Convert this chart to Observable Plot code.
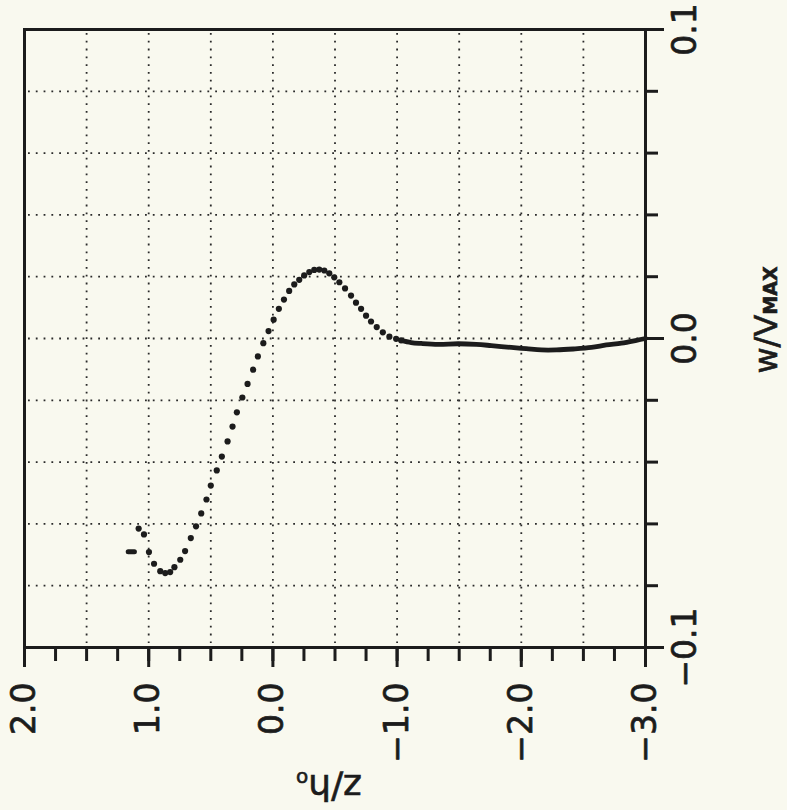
<!DOCTYPE html>
<html>
<head>
<meta charset="utf-8">
<script src="https://cdn.jsdelivr.net/npm/d3@7"></script>
<script src="https://cdn.jsdelivr.net/npm/@observablehq/plot@0.6"></script>
<style>
  html, body { margin: 0; padding: 0; background: #f9f9ef; }
  #chart svg { display: block; }
</style>
</head>
<body>
<div id="chart"></div>
<script>
// ---- axis ticks & labels ----
const xMajor = [2, 1, 0, -1, -2, -3];
const xLabels = ["2.0", "1.0", "0.0", "−1.0", "−2.0", "−3.0"];
const xMinor = [2, 1.75, 1.5, 1.25, 1, 0.75, 0.5, 0.25, 0, -0.25, -0.5, -0.75, -1, -1.25, -1.5, -1.75, -2, -2.25, -2.5, -2.75, -3];
const xGrid = [1.5, 1, 0.5, 0, -0.5, -1, -1.5, -2, -2.5];
const yMajor = [-0.1, 0, 0.1];
const yLabels = ["−0.1", "0.0", "0.1"];
const yMinor = [-0.1, -0.08, -0.06, -0.04, -0.02, 0, 0.02, 0.04, 0.06, 0.08, 0.1];
const yGrid = [-0.08, -0.06, -0.04, -0.02, 0, 0.02, 0.04, 0.06, 0.08];

// ---- data: z/h0 and w/Vmax ----
const zDots = [1.081, 1.038, 0.998, 0.957, 0.907, 0.867, 0.827, 0.793, 0.746, 0.707, 0.661, 0.619, 0.577, 0.535, 0.500, 0.452, 0.411, 0.365, 0.325, 0.290, 0.246, 0.204, 0.159, 0.121, 0.077, 0.035, -0.006, -0.048, -0.089, -0.131, -0.172, -0.212, -0.252, -0.293, -0.333, -0.373, -0.414, -0.454, -0.494, -0.535, -0.581, -0.629, -0.669, -0.710, -0.750, -0.790, -0.836, -0.885, -0.938, -0.992, -1.032];
const wDots = [-0.0615, -0.0634, -0.0691, -0.0729, -0.0753, -0.0759, -0.0756, -0.0740, -0.0716, -0.0688, -0.0646, -0.0608, -0.0566, -0.0521, -0.0476, -0.0427, -0.0382, -0.0333, -0.0285, -0.0239, -0.0191, -0.0147, -0.0101, -0.0058, -0.0015, 0.0024, 0.0061, 0.0096, 0.0126, 0.0154, 0.0175, 0.0190, 0.0204, 0.0215, 0.0222, 0.0223, 0.0220, 0.0211, 0.0198, 0.0182, 0.0162, 0.0139, 0.0116, 0.0096, 0.0074, 0.0055, 0.0037, 0.0020, 0.0006, -0.0001, -0.0006];
const zLine = [-1.032, -1.113, -1.194, -1.331, -1.492, -1.637, -1.758, -1.919, -2.040, -2.161, -2.282, -2.419, -2.565, -2.685, -2.806, -2.927, -3.0];
const wLine = [-0.0006, -0.0013, -0.0016, -0.0019, -0.0017, -0.0019, -0.0023, -0.0029, -0.0033, -0.0037, -0.0037, -0.0034, -0.0029, -0.0021, -0.0015, -0.0006, 0.0];
const zDash = [1.165, 1.115];
const wDash = [-0.0690, -0.0690];

const ink = "#1c1c1c";
const dots = zDots.map((z, i) => ({z, w: wDots[i]}));
const tail = zLine.map((z, i) => ({z, w: wLine[i]}));
const dash = zDash.map((z, i) => ({z, w: wDash[i]}));
const xLab = xMajor.map((v, i) => ({v, t: xLabels[i]}));
const yLab = yMajor.map((v, i) => ({v, t: yLabels[i]}));

const chart = Plot.plot({
  width: 787,
  height: 810,
  marginLeft: 24,
  marginRight: 142,
  marginTop: 29,
  marginBottom: 163,
  style: {background: "#f9f9ef", fontFamily: "DejaVu Sans", color: ink},
  x: {domain: [2, -3]},
  y: {domain: [-0.1, 0.1]},
  marks: [
    Plot.ruleX(xGrid, {stroke: "#2a2a2a", strokeWidth: 1.8, strokeDasharray: "1.8,6", insetTop: 4, insetBottom: 4}),
    Plot.ruleY(yGrid, {stroke: "#2a2a2a", strokeWidth: 1.8, strokeDasharray: "1.8,6", insetLeft: 4, insetRight: 4}),
    Plot.frame({stroke: ink, strokeWidth: 3}),
    Plot.axisX(xMinor, {anchor: "bottom", tickSize: 14, tickFormat: () => "", strokeWidth: 3, stroke: ink, label: null}),
    Plot.axisX(xMajor, {anchor: "bottom", tickSize: 20, tickFormat: () => "", strokeWidth: 3, stroke: ink, label: null}),
    Plot.axisY(yMinor, {anchor: "right", tickSize: 12, tickFormat: () => "", strokeWidth: 3, stroke: ink, label: null}),
    Plot.axisY(yMajor, {anchor: "right", tickSize: 18, tickFormat: () => "", strokeWidth: 3, stroke: ink, label: null}),
    Plot.text(xLab, {x: "v", text: "t", frameAnchor: "bottom", dy: 35, rotate: -90, textAnchor: "end", lineAnchor: "middle", fontSize: 33, fill: ink, stroke: ink, strokeWidth: 0.7}),
    Plot.text(yLab, {y: "v", text: "t", frameAnchor: "right", dx: 40, rotate: -90, textAnchor: "middle", lineAnchor: "middle", fontSize: 33, fill: ink, stroke: ink, strokeWidth: 0.7}),
    Plot.line(tail, {x: "z", y: "w", stroke: ink, strokeWidth: 4.8, curve: "catmull-rom"}),
    Plot.line(dash, {x: "z", y: "w", stroke: ink, strokeWidth: 5, strokeLinecap: "round"}),
    Plot.dot(dots, {x: "z", y: "w", r: 3.1, fill: ink})
  ]
});

document.getElementById("chart").appendChild(chart);

// axis titles (rotated like the scanned figure)
const svg = d3.select(chart);
const t1 = svg.append("text")
  .attr("transform", "translate(777,320) rotate(-90)")
  .attr("text-anchor", "middle")
  .attr("fill", ink)
  .attr("stroke", ink)
  .attr("stroke-width", 0.6)
  .attr("font-family", "DejaVu Sans")
  .attr("font-size", 32);
t1.append("tspan").text("w/V");
t1.append("tspan").attr("font-size", 19).attr("font-weight", "bold").text("MAX");

const t2 = svg.append("text")
  .attr("transform", "translate(329,775) rotate(180)")
  .attr("text-anchor", "middle")
  .attr("fill", ink)
  .attr("stroke", ink)
  .attr("stroke-width", 0.6)
  .attr("font-family", "DejaVu Sans")
  .attr("font-size", 36);
t2.append("tspan").text("z/h");
t2.append("tspan").attr("font-size", 20).attr("dy", 3).text("o");
</script>
</body>
</html>
